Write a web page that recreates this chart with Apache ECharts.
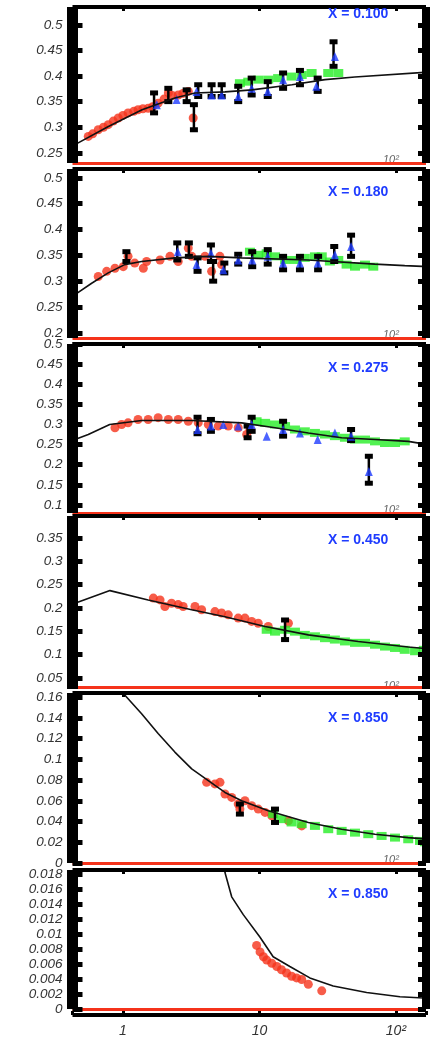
<!DOCTYPE html>
<html>
<head>
<meta charset="utf-8">
<script src="https://cdn.jsdelivr.net/npm/echarts@6/dist/echarts.min.js"></script>
<style>html,body{margin:0;padding:0;background:#fff}#c{width:433px;height:1038px}</style>
</head>
<body>
<div id="c"></div>
<script>
// ---------- data ----------
const panelLabels = ['X = 0.100', 'X = 0.180', 'X = 0.275', 'X = 0.450', 'X = 0.850', 'X = 0.850'];
const xTickLabels = { 0: '1', 1: '10', 2: '10\u00b2' };

const yTicks1 = [0.25, 0.3, 0.35, 0.4, 0.45, 0.5];
const yTicks2 = [0.2, 0.25, 0.3, 0.35, 0.4, 0.45, 0.5];
const yTicks3 = [0.1, 0.15, 0.2, 0.25, 0.3, 0.35, 0.4, 0.45, 0.5];
const yTicks4 = [0.05, 0.1, 0.15, 0.2, 0.25, 0.3, 0.35];
const yTicks5 = [0, 0.02, 0.04, 0.06, 0.08, 0.1, 0.12, 0.14, 0.16];
const yTicks6 = [0, 0.002, 0.004, 0.006, 0.008, 0.01, 0.012, 0.014, 0.016, 0.018];

// panel 1
const curve1 = [[0.42,0.262],[0.445,0.266],[0.776,0.301],[1.38,0.334],[2.40,0.357],[3.37,0.367],[5.59,0.369],[8.81,0.373],[17.3,0.383],[30.2,0.393],[50,0.398],[177,0.408]];
const red1 = [[0.557,0.282],[0.60,0.287],[0.659,0.295],[0.72,0.300],[0.780,0.305],[0.85,0.312],[0.924,0.318],[1.0,0.323],[1.09,0.328],[1.2,0.331],[1.29,0.334],[1.4,0.336],[1.53,0.337],[1.65,0.340],[1.81,0.347],[2.0,0.355],[2.15,0.367],[2.3,0.362],[2.54,0.363],[2.75,0.366],[3.01,0.370],[3.27,0.318]];
const green1 = [[7.19,0.386],[8.28,0.389],[9.80,0.393],[11.6,0.393],[13.7,0.396],[17.2,0.399],[20.4,0.402],[24.1,0.406],[31.9,0.406],[37.8,0.406]];
const blue1 = [[1.77,0.344],[2.47,0.354],[3.46,0.370],[4.46,0.363],[5.29,0.363],[6.99,0.360],[8.77,0.376],[11.5,0.370],[14.9,0.393],[19.8,0.399],[26.1,0.380],[35.7,0.438]];
const err1 = [[1.69,0.328,0.367],[2.15,0.350,0.376],[2.93,0.350,0.373],[3.31,0.295,0.344],[3.56,0.360,0.383],[4.46,0.360,0.383],[5.29,0.360,0.383],[6.99,0.350,0.380],[8.77,0.363,0.396],[11.5,0.360,0.389],[14.9,0.376,0.406],[19.8,0.383,0.411],[26.7,0.370,0.396],[34.9,0.419,0.467]];

// panel 2
const curve2 = [[0.42,0.268],[0.445,0.274],[0.590,0.296],[0.780,0.316],[1.03,0.332],[1.37,0.338],[2.40,0.345],[4.21,0.348],[7.41,0.345],[22.7,0.341],[70,0.333],[116,0.330],[177,0.328]];
const red2 = [[0.659,0.309],[0.760,0.319],[0.874,0.325],[1.005,0.328],[1.09,0.348],[1.22,0.335],[1.41,0.325],[1.49,0.338],[1.87,0.341],[2.21,0.348],[2.54,0.338],[3.01,0.364],[3.19,0.348],[3.99,0.348],[4.46,0.319],[5.13,0.348],[5.28,0.332]];
const green2 = [[8.52,0.357],[9.80,0.351],[11.3,0.354],[13.0,0.348],[15.4,0.341],[18.2,0.341],[21.5,0.345],[25.5,0.348],[28.6,0.348],[32.8,0.338],[37.8,0.341],[43.5,0.332],[50.1,0.328],[59.3,0.332],[68.2,0.328]];
const blue2 = [[2.52,0.357],[3.46,0.332],[4.41,0.354],[5.43,0.322],[6.99,0.341],[8.85,0.341],[11.5,0.348],[14.9,0.335],[19.8,0.335],[26.7,0.335],[35.7,0.351],[46.9,0.367]];
const err2 = [[1.06,0.338,0.357],[2.50,0.341,0.374],[3.04,0.348,0.374],[3.52,0.319,0.345],[4.41,0.338,0.370],[4.58,0.300,0.338],[5.53,0.316,0.335],[6.99,0.333,0.352],[8.85,0.328,0.357],[11.5,0.333,0.361],[14.9,0.322,0.348],[19.8,0.322,0.348],[26.9,0.322,0.348],[35.3,0.338,0.367],[46.9,0.348,0.389]];

// panel 3
const curve3 = [[0.42,0.26],[0.445,0.2625],[0.557,0.275],[0.80,0.30],[1.37,0.31],[3.19,0.31],[7.41,0.304],[13.0,0.292],[22.8,0.279],[40,0.267],[70.2,0.2625],[123,0.258],[172,0.25]];
const red3 = [[0.874,0.292],[0.978,0.30],[1.09,0.304],[1.29,0.3125],[1.53,0.3125],[1.81,0.317],[2.15,0.3125],[2.54,0.3125],[3.01,0.308],[3.56,0.304],[4.22,0.30],[4.99,0.296],[5.91,0.296],[6.99,0.292],[8.06,0.275],[8.52,0.2875]];
const green3 = [[9.53,0.308],[11.0,0.304],[13.0,0.30],[15.4,0.296],[18.2,0.2875],[21.5,0.283],[25.5,0.279],[30.2,0.275],[35.7,0.271],[42.3,0.267],[50.1,0.2625],[59.3,0.2625],[70.2,0.258],[83.1,0.254],[98.4,0.254],[116,0.258]];
const blue3 = [[3.52,0.2875],[4.41,0.296],[5.43,0.30],[6.99,0.296],[8.77,0.30],[11.3,0.271],[14.9,0.2875],[19.8,0.279],[26.7,0.2625],[35.7,0.279],[46.9,0.271],[63.3,0.183]];
const err3 = [[3.52,0.277,0.318],[4.41,0.283,0.3125],[8.19,0.267,0.296],[8.77,0.283,0.318],[14.9,0.271,0.308],[46.9,0.26,0.2875],[63.3,0.154,0.221]];

// panel 4
const curve4 = [[0.42,0.208],[0.445,0.210],[0.803,0.237],[1.53,0.217],[3.19,0.196],[5.59,0.181],[11.0,0.160],[22.8,0.142],[52.9,0.128],[123,0.116],[177,0.112]];
const red4 = [[1.67,0.221],[1.87,0.217],[2.03,0.203],[2.27,0.210],[2.54,0.207],[2.76,0.203],[3.37,0.203],[3.77,0.196],[4.72,0.192],[5.28,0.189],[5.91,0.185],[6.99,0.178],[7.83,0.178],[8.77,0.171],[9.80,0.167],[11.6,0.160],[16.3,0.167]];
const green4 = [[11.3,0.153],[13.0,0.149],[15.4,0.153],[18.2,0.149],[21.5,0.142],[25.5,0.139],[30.2,0.135],[35.7,0.132],[42.3,0.128],[50.1,0.125],[59.3,0.125],[70.2,0.121],[83.1,0.117],[98.4,0.114],[116,0.110],[138,0.107],[160,0.110]];
const blue4 = [];
const err4 = [[15.4,0.132,0.174]];

// panel 5
const curve5 = [[0.85,0.175],[1.03,0.162],[1.37,0.144],[1.81,0.125],[2.40,0.107],[3.19,0.0908],[4.22,0.0795],[5.59,0.0681],[7.41,0.0601],[11.6,0.0504],[22.8,0.0391],[40,0.0326],[70.2,0.0278],[123,0.0245],[177,0.0229]];
const red5 = [[4.10,0.0778],[4.72,0.0763],[5.14,0.0778],[5.59,0.0666],[6.26,0.0633],[6.99,0.0569],[7.19,0.0520],[7.83,0.0601],[8.77,0.0553],[9.80,0.0520],[11.0,0.0488],[12.3,0.0456],[16.3,0.0407],[20.4,0.0358]];
const green5 = [[12.6,0.0472],[14.5,0.0423],[17.2,0.0391],[20.4,0.0375],[25.5,0.0358],[31.9,0.0326],[40.0,0.0310],[50.1,0.0293],[62.7,0.0278],[78.5,0.0261],[98.4,0.0245],[123,0.0229],[150,0.0213],[163,0.0200]];
const blue5 = [];
const err5 = [[7.19,0.0472,0.0569],[13.0,0.0391,0.0520]];

// panel 6
const curve6 = [[5.4,0.021],[5.59,0.01817],[6.26,0.01493],[7.61,0.01256],[10.1,0.00954],[12.6,0.00695],[16.7,0.00566],[23.4,0.00414],[34.7,0.00307],[61.0,0.00220],[107,0.00164],[177,0.00142]];
const red6 = [[9.53,0.00846],[10.1,0.0076],[10.7,0.00695],[11.3,0.00651],[12.3,0.00609],[13.4,0.00566],[14.5,0.00522],[15.8,0.00479],[17.2,0.00436],[18.7,0.00414],[20.4,0.00392],[22.8,0.00328],[28.6,0.00242]];
const green6 = [];
const blue6 = [];
const err6 = [];

// ---------- layout ----------
const X_MIN = 0.427, X_MAX = 166;
const layout = [
  { top: 7,   bottom: 163,  yMin: 0.23,  yMax: 0.535, ticks: yTicks1, labelY: 15 },
  { top: 169, bottom: 338,  yMin: 0.19,  yMax: 0.517, ticks: yTicks2, labelY: 193 },
  { top: 344, bottom: 513,  yMin: 0.08,  yMax: 0.5,   ticks: yTicks3, labelY: 369 },
  { top: 516, bottom: 689,  yMin: 0.026, yMax: 0.397, ticks: yTicks4, labelY: 541 },
  { top: 693, bottom: 863,  yMin: 0,     yMax: 0.164, ticks: yTicks5, labelY: 719 },
  { top: 870, bottom: 1013, yMin: 0,     yMax: 0.0185, ticks: yTicks6, labelY: 895 }
];
const dataSets = [
  { curve: curve1, red: red1, green: green1, blue: blue1, err: err1 },
  { curve: curve2, red: red2, green: green2, blue: blue2, err: err2 },
  { curve: curve3, red: red3, green: green3, blue: blue3, err: err3 },
  { curve: curve4, red: red4, green: green4, blue: blue4, err: err4 },
  { curve: curve5, red: red5, green: green5, blue: blue5, err: err5 },
  { curve: curve6, red: red6, green: green6, blue: blue6, err: err6 }
];

const W = 433, H = 1038;
const GL = 72.5, GR = 426;
const RED = '#f5331b', GREEN = '#25ee25', BLUE = '#1f3cff';
const FONT = "'Liberation Sans', Arial, sans-serif";

function xLabel(v) {
  const l = Math.log10(v);
  const r = Math.round(l);
  if (Math.abs(l - r) > 1e-3) return '';
  return xTickLabels[r] !== undefined ? xTickLabels[r] : '';
}

const grids = [], xAxes = [], yAxes = [], series = [], graphics = [];
layout.forEach((p, i) => {
  const last = i === layout.length - 1;
  grids.push({ left: GL, width: GR - GL, top: p.top, height: p.bottom - p.top });
  // bottom x axis (used by series)
  xAxes.push({
    type: 'log', logBase: 10, min: X_MIN, max: X_MAX, gridIndex: i, position: 'bottom',
    show: last, offset: last ? 6 : 0, z: 6,
    axisLine: { show: true, onZero: false, lineStyle: { color: '#000', width: 4, cap: 'butt' } },
    axisTick: { show: true, inside: true, length: 4, lineStyle: { color: '#000', width: 3 } },
    axisLabel: { show: true, formatter: xLabel, fontFamily: FONT, fontStyle: 'italic', fontSize: 14, color: '#333', margin: 9 },
    splitLine: { show: false }, minorTick: { show: false }
  });
  // top frame x axis
  xAxes.push({
    type: 'log', logBase: 10, min: X_MIN, max: X_MAX, gridIndex: i, position: 'top', z: 6,
    axisLine: { show: true, onZero: false, lineStyle: { color: '#000', width: 4, cap: 'butt' } },
    axisTick: { show: true, inside: true, length: 4, lineStyle: { color: '#000', width: 3 } },
    axisLabel: { show: false }, splitLine: { show: false }
  });
  // left y axis
  yAxes.push({
    type: 'value', gridIndex: i, min: p.yMin, max: p.yMax, position: 'left', z: 6,
    axisLine: { show: true, onZero: false, lineStyle: { color: '#000', width: 11, cap: 'butt' } },
    axisTick: { show: true, inside: true, length: 10, customValues: p.ticks, lineStyle: { color: '#000', width: 5 } },
    axisLabel: { show: true, customValues: p.ticks, formatter: v => String(v), fontFamily: FONT, fontStyle: 'italic', fontSize: 13.5, color: '#333', margin: 10 },
    splitLine: { show: false }
  });
  // right y axis (frame)
  yAxes.push({
    type: 'value', gridIndex: i, min: p.yMin, max: p.yMax, position: 'right', z: 6,
    axisLine: { show: true, onZero: false, lineStyle: { color: '#000', width: 8, cap: 'butt' } },
    axisTick: { show: true, inside: true, length: 8, customValues: p.ticks, lineStyle: { color: '#000', width: 5 } },
    axisLabel: { show: false }, splitLine: { show: false }
  });

  const d = dataSets[i];
  const xi = 2 * i, yi = 2 * i;
  series.push({
    type: 'scatter', xAxisIndex: xi, yAxisIndex: yi, data: d.red, z: 2,
    symbol: 'circle', symbolSize: 9, itemStyle: { color: RED }, silent: true
  });
  series.push({
    type: 'scatter', xAxisIndex: xi, yAxisIndex: yi, data: d.green, z: 2,
    symbol: 'rect', symbolSize: [10, 8], itemStyle: { color: GREEN }, silent: true
  });
  series.push({
    type: 'custom', xAxisIndex: xi, yAxisIndex: yi, data: d.err, z: 3, silent: true,
    encode: { x: 0, y: [1, 2] },
    renderItem: function (params, api) {
      const x = api.value(0);
      const a = api.coord([x, api.value(1)]);
      const b = api.coord([x, api.value(2)]);
      return {
        type: 'group', children: [
          { type: 'line', shape: { x1: a[0], y1: a[1], x2: b[0], y2: b[1] }, style: { stroke: '#000', lineWidth: 2.5 } },
          { type: 'rect', shape: { x: a[0] - 4, y: a[1] - 2.5, width: 8, height: 5 }, style: { fill: '#000' } },
          { type: 'rect', shape: { x: b[0] - 4, y: b[1] - 2.5, width: 8, height: 5 }, style: { fill: '#000' } }
        ]
      };
    }
  });
  series.push({
    type: 'scatter', xAxisIndex: xi, yAxisIndex: yi, data: d.blue, z: 4,
    symbol: 'triangle', symbolSize: [8, 9], itemStyle: { color: BLUE }, silent: true
  });
  series.push({
    type: 'line', xAxisIndex: xi, yAxisIndex: yi, data: d.curve, z: 5,
    showSymbol: false, symbol: 'none', smooth: false, clip: true, silent: true,
    lineStyle: { color: '#111', width: 1.6 },
    markLine: {
      silent: true, symbol: 'none', label: { show: false }, animation: false,
      lineStyle: { color: RED, width: 3, type: 'solid' },
      data: [{ yAxis: p.yMin }]
    }
  });

  graphics.push({
    type: 'text', left: 328, top: p.labelY - 8, z: 10,
    style: { text: panelLabels[i], fill: BLUE, font: "bold 14px " + FONT }
  });
  if (!last) {
    graphics.push({
      type: 'text', left: 383, top: p.bottom - 9, z: 1,
      style: { text: '10\u00b2', fill: '#666', font: "italic 11px " + FONT }
    });
  }
});

const chart = echarts.init(document.getElementById('c'), null, { renderer: 'canvas', width: W, height: H });
chart.setOption({
  animation: false,
  backgroundColor: '#fff',
  grid: grids, xAxis: xAxes, yAxis: yAxes, series: series,
  graphic: { elements: graphics }
});
</script>
</body>
</html>
